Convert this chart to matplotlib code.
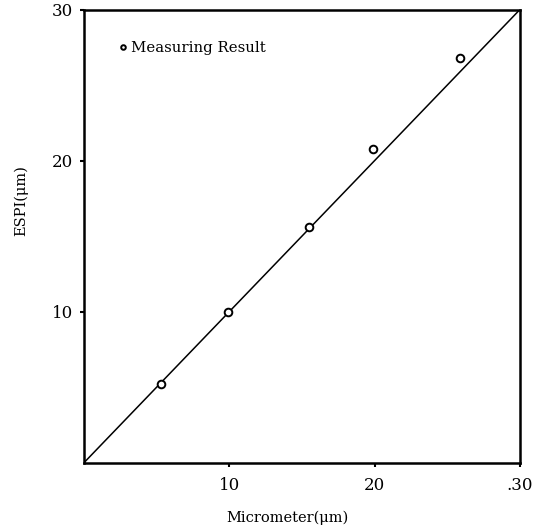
import matplotlib
matplotlib.use('Agg')
import matplotlib.pyplot as plt

# measured points: micrometer vs ESPI (um)
micrometer = [5.3, 9.9, 15.5, 19.9, 25.9]
espi = [5.2, 10.0, 15.6, 20.8, 26.8]
fit_x = [0, 30]
fit_y = [0, 30]
ticks = [10, 20, 30]
xtick_labels = ['10', '20', '.30']
ytick_labels = ['10', '20', '30']

plt.rcParams['font.family'] = ['DejaVu Serif']

fig = plt.figure(figsize=(5.41, 5.32), dpi=100)
ax = fig.add_axes([0.155, 0.13, 0.806, 0.852])

ax.plot(fit_x, fit_y, color='black', lw=1.1)
ax.plot(micrometer, espi, 'o', mfc='white', mec='black', ms=5.5, mew=1.4,
        label='Measuring Result')

ax.set_xlim(0, 30)
ax.set_ylim(0, 30)
ax.set_xticks(ticks)
ax.set_xticklabels(xtick_labels)
ax.set_yticks(ticks)
ax.set_yticklabels(ytick_labels)
ax.tick_params(direction='out', length=3, width=1.5, labelsize=12, pad=5)
ax.tick_params(axis='x', pad=7)
for s in ax.spines.values():
    s.set_linewidth(1.8)

ax.set_xlabel('Micrometer(μm)', fontsize=10.5)
ax.set_ylabel('ESPI(μm)', fontsize=10.5)
ax.xaxis.set_label_coords(0.466, -0.106)
ax.yaxis.set_label_coords(-0.127, 0.578)

ax.legend(loc='upper left', frameon=False, fontsize=10.7, markerscale=0.6,
          handletextpad=0.2, handlelength=0.6, bbox_to_anchor=(0.05, 0.96))

fig.savefig('out.png', dpi=100)
